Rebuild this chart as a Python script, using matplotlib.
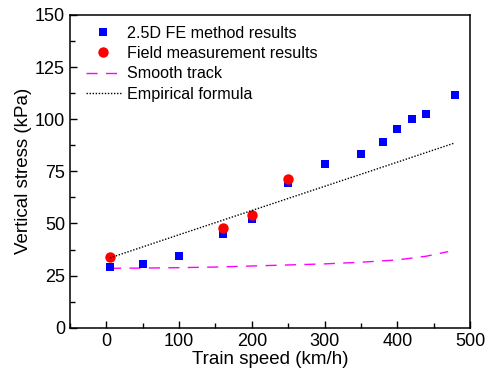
import numpy as np
import matplotlib
matplotlib.use("Agg")
import matplotlib.pyplot as plt
from matplotlib.ticker import MultipleLocator

# DATA

fe_speed = [5, 50, 100, 160, 200, 250, 300, 350, 380, 400, 420, 440, 480]
fe_stress = [29.0, 30.4, 34.4, 45.0, 52.2, 69.4, 78.5, 83.3, 89.1, 95.5, 100.1, 102.5, 111.5]

field_speed = [5, 160, 200, 250]
field_stress = [33.8, 48.0, 53.9, 71.3]

smooth_speed = [5, 50, 100, 150, 200, 250, 300, 350, 400, 440, 470]
smooth_stress = [28.5, 28.6, 28.8, 29.1, 29.6, 30.1, 30.6, 31.4, 32.5, 34.3, 36.5]

emp_speed = [5, 100, 200, 300, 400, 478]
emp_stress = [33.5, 44.6, 56.2, 67.8, 79.4, 88.5]

# PLOT

plt.rcParams['font.family'] = ['Liberation Sans', 'DejaVu Sans']

fig = plt.figure(figsize=(4.89, 3.74), dpi=100)
ax = fig.add_axes([0.1431, 0.1238, 0.818, 0.8361])

ax.plot(fe_speed, fe_stress, 's', color='#0000ff', markersize=6,
        markeredgewidth=0, label="2.5D FE method results", zorder=3)
ax.plot(field_speed, field_stress, 'o', color='#ff0000', markersize=7.5,
        markeredgewidth=0, label="Field measurement results", zorder=4)
ax.plot(smooth_speed, smooth_stress, color='#ff00ff', lw=1.0,
        dashes=(8, 6), label="Smooth track", zorder=2)
ax.plot(emp_speed, emp_stress, color='black', lw=1.0,
        dashes=(1, 1.2), label="Empirical formula", zorder=5)

ax.set_xlim(-50, 500)
ax.set_ylim(0, 150)
ax.xaxis.set_major_locator(MultipleLocator(100))
ax.xaxis.set_minor_locator(MultipleLocator(50))
ax.yaxis.set_major_locator(MultipleLocator(25))
ax.yaxis.set_minor_locator(MultipleLocator(12.5))

ax.tick_params(which='both', direction='in', top=False, right=False,
               labelsize=13, width=1.0)
ax.tick_params(which='major', length=5)
ax.tick_params(which='minor', length=3.5)
for s in ax.spines.values():
    s.set_linewidth(1.1)

ax.set_xlabel("Train speed (km/h)", fontsize=13.5, labelpad=1)
ax.set_ylabel("Vertical stress (kPa)", fontsize=13.5, labelpad=2)

ax.legend(loc='upper left', bbox_to_anchor=(0.016, 0.997), frameon=False,
          fontsize=11.6, handlelength=2.15, handletextpad=0.4,
          labelspacing=0.33, borderaxespad=0.3, borderpad=0.3)

fig.savefig("out.png", dpi=100)
